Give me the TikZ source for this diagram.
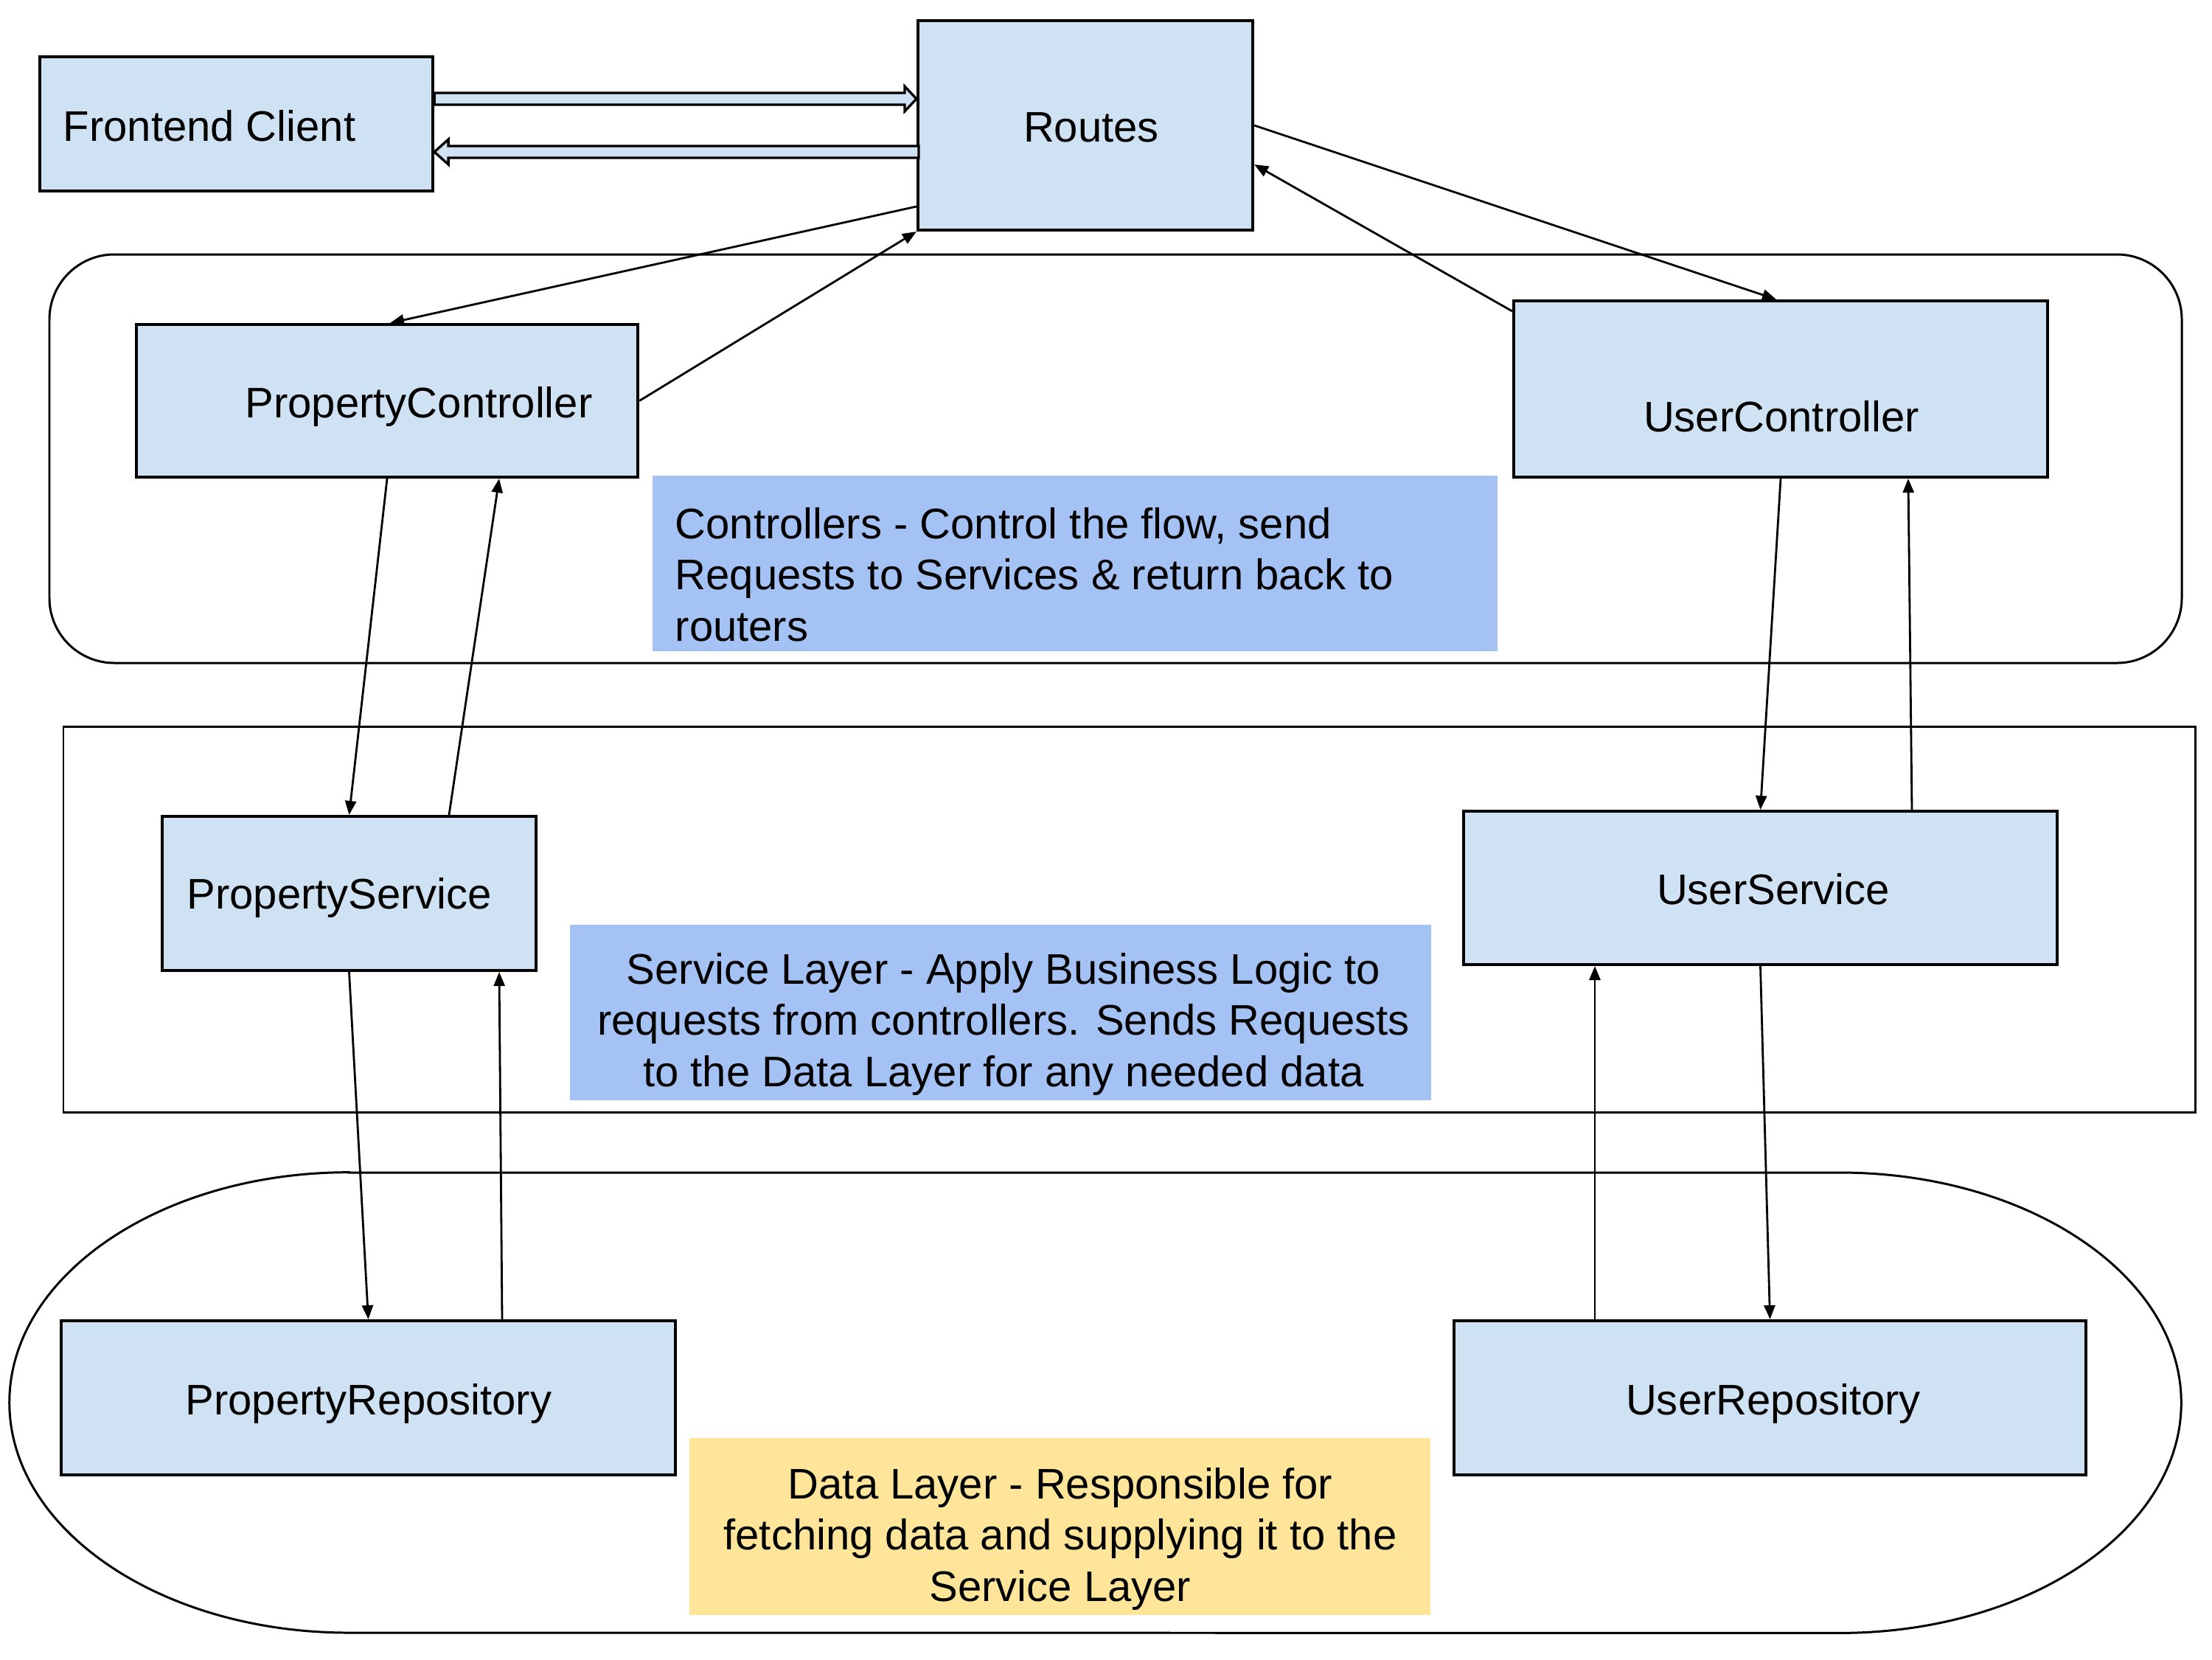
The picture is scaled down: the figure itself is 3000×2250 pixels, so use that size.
\documentclass[tikz,border=0pt]{standalone}
\usepackage{fontspec}
\setmainfont{Liberation Sans}
\usetikzlibrary{calc,arrows.meta}
\definecolor{boxfill}{HTML}{CFE2F3}
\definecolor{noteblue}{HTML}{A4C2F4}
\definecolor{noteyellow}{HTML}{FFE599}
\newcommand\lblfont{\fontsize{16.5pt}{19.64pt}\selectfont}
\begin{document}
\begin{tikzpicture}[x=0.01cm,y=-0.01cm,
  box/.style={draw=black, line width=1.1pt, fill=boxfill, inner sep=0pt},
  note/.style={inner sep=0pt},
  txt/.style={inner sep=0pt, font=\lblfont},
  arr/.style={line width=0.8pt, -{Triangle[length=0.19cm,width=0.15cm]}},
  hollow/.style={draw=black, fill=boxfill, line width=0.95pt, line join=miter},
  layer/.style={draw=black, line width=0.85pt}]
\useasboundingbox (0,0) rectangle (3000,2250);
% layers
\draw[layer, rounded corners=0.88cm] (67,345) rectangle (2959,899);
\draw[layer] (86,985) rectangle (2977,1508);
\draw[layer] (473,1590) -- (2495,1590)
  arc[start angle=90, end angle=-90, x radius=4.63cm, y radius=3.12cm]
  -- (473,2214)
  arc[start angle=270, end angle=90, x radius=4.60cm, y radius=3.12cm] -- cycle;
% notes
\node[note, fill=noteblue, minimum width=11.46cm, minimum height=2.38cm] (ctrlnote) at (1458,764) {};
\node[txt, align=left, anchor=base west] (ctrltext) at (915,869)
  {Controllers - Control the flow, send\\Requests to Services \& return back to\\routers};
\node[note, fill=noteblue, minimum width=11.68cm, minimum height=2.38cm] (svcnote) at (1357,1373) {};
\node[txt, align=center, anchor=base] (svctext) at (1361,1473)
  {Service Layer - Apply Business Logic to\\requests from controllers. Sends Requests\\to the Data Layer for any needed data};
\node[note, fill=noteyellow, minimum width=10.05cm, minimum height=2.40cm] (datanote) at (1437.5,2070) {};
\node[txt, align=center, anchor=base] (datatext) at (1438,2171)
  {Data Layer - Responsible for\\fetching data and supplying it to the\\Service Layer};
% boxes
\node[box, minimum width=5.33cm, minimum height=1.82cm] (fc) at (320.5,168) {};
\node[txt, anchor=base west] (fct) at (85,191) {Frontend Client};
\node[box, minimum width=4.54cm, minimum height=2.84cm] (routes) at (1472,170) {};
\node[txt, anchor=base] (routest) at (1480,192) {Routes};
\node[box, minimum width=6.80cm, minimum height=2.07cm] (pc) at (525,543.5) {};
\node[txt, anchor=base west] (pct) at (332,566) {PropertyController};
\node[box, minimum width=7.24cm, minimum height=2.39cm] (uc) at (2415,527.5) {};
\node[txt, anchor=base] (uct) at (2416,585) {UserController};
\node[box, minimum width=5.07cm, minimum height=2.09cm] (ps) at (473.5,1211.5) {};
\node[txt, anchor=base west] (pst) at (253,1232) {PropertyService};
\node[box, minimum width=8.05cm, minimum height=2.08cm] (us) at (2387.5,1204) {};
\node[txt, anchor=base] (ust) at (2405,1226) {UserService};
\node[box, minimum width=8.33cm, minimum height=2.09cm] (pr) at (499.5,1895.5) {};
\node[txt, anchor=base] (prt) at (500,1918) {PropertyRepository};
\node[box, minimum width=8.57cm, minimum height=2.09cm] (ur) at (2400.5,1895.5) {};
\node[txt, anchor=base] (urt) at (2405,1918) {UserRepository};
% hollow arrows between frontend and routes
\filldraw[hollow] (fc.east |- 0,126) -- ($(routes.west |- 0,126)+(-16,0)$)
  -- ($(routes.west |- 0,117)+(-16,0)$) -- (routes.west |- 0,134)
  -- ($(routes.west |- 0,151)+(-16,0)$) -- ($(routes.west |- 0,142)+(-16,0)$)
  -- (fc.east |- 0,142) -- cycle;
\filldraw[hollow] ($(routes.west |- 0,198)+(3,0)$) -- ($(fc.east |- 0,198)+(19,0)$)
  -- ($(fc.east |- 0,189)+(19,0)$) -- (fc.east |- 0,206)
  -- ($(fc.east |- 0,223)+(19,0)$) -- ($(fc.east |- 0,214)+(19,0)$)
  -- ($(routes.west |- 0,214)+(3,0)$) -- cycle;
% routes <-> controllers
\draw[arr] ($(routes.west)+(0,110)$) -- ($(pc.north)+(4,0)$);
\draw[arr] (pc.east) -- (routes.south west);
\draw[arr] (routes.east) -- ($(uc.north)+(-6,0)$);
\draw[arr] ($(uc.north west)+(0,16)$) -- ($(routes.east)+(0,53)$);
% controllers <-> services
\draw[arr] (pc.south) -- (ps.north);
\draw[arr] ($(ps.north)+(135.5,0)$) -- ($(pc.south)+(152,0)$);
\draw[arr] (uc.south) -- (us.north);
\draw[arr] ($(us.north)+(205.5,0)$) -- ($(uc.south)+(173,0)$);
% services <-> repositories
\draw[arr] (ps.south) -- (pr.north);
\draw[arr] ($(pr.north)+(181.5,0)$) -- ($(ps.south)+(203.5,0)$);
\draw[arr] ($(ur.north)+(-237.5,0)$) -- ($(us.south)+(-224.5,0)$);
\draw[arr] (us.south) -- (ur.north);
\end{tikzpicture}
\end{document}
